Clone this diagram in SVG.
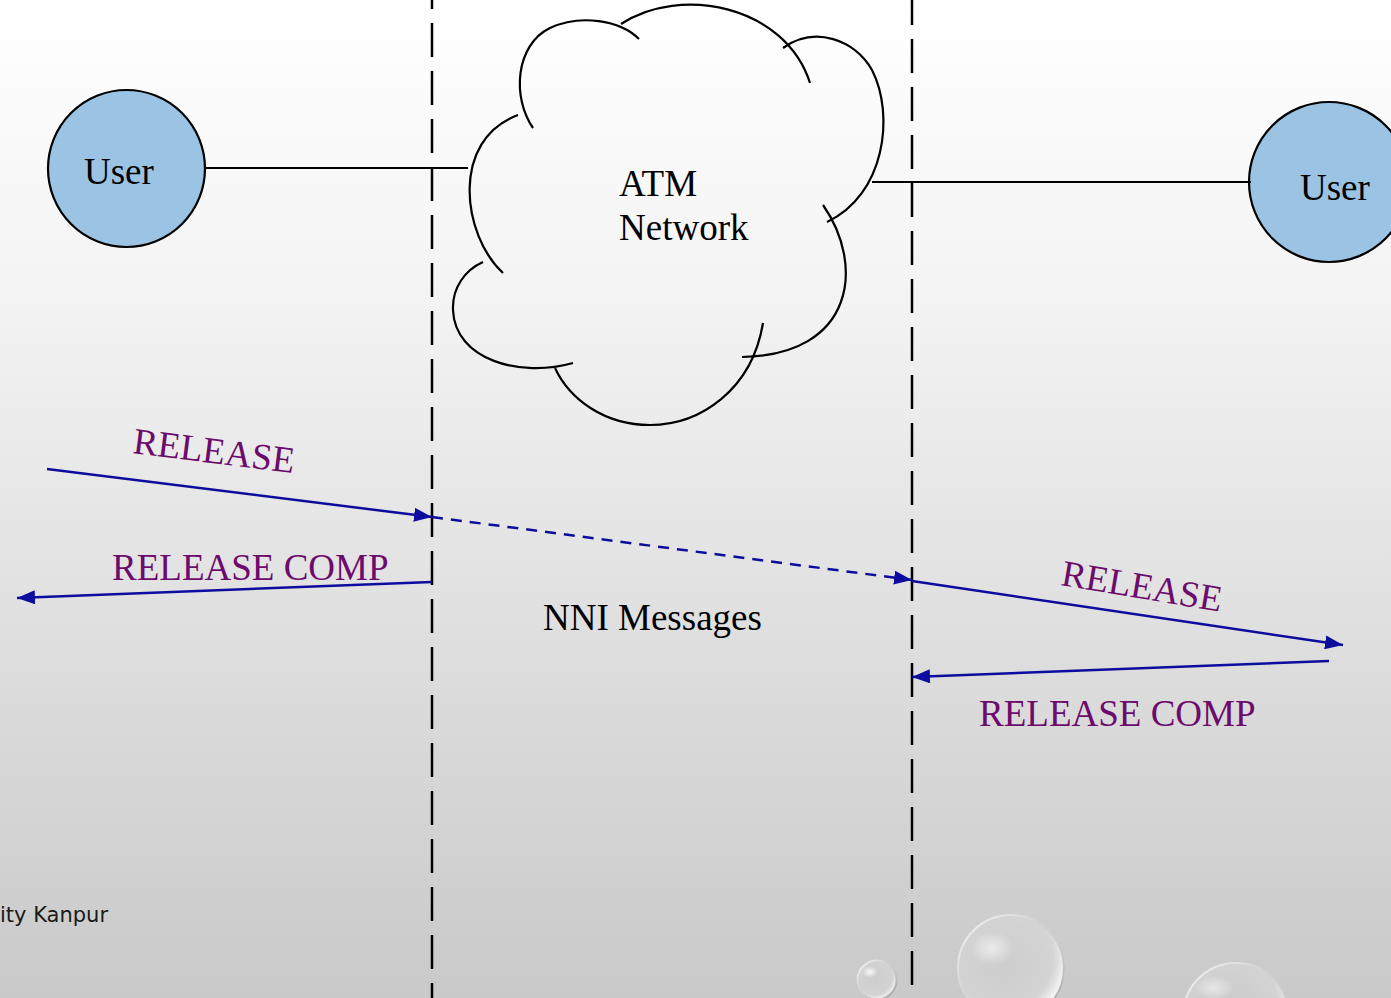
<svg xmlns="http://www.w3.org/2000/svg" width="1391" height="998" viewBox="0 0 1391 998">
  <defs>
    <linearGradient id="bg" x1="0" y1="0" x2="0" y2="1">
      <stop offset="0" stop-color="#ffffff"/>
      <stop offset="0.3" stop-color="#f3f3f3"/>
      <stop offset="1" stop-color="#c9c9c9"/>
    </linearGradient>
    <radialGradient id="drop" cx="0.42" cy="0.4" r="0.62">
      <stop offset="0" stop-color="#d4d4d4" stop-opacity="0.3"/>
      <stop offset="0.75" stop-color="#d9d9d9" stop-opacity="0.6"/>
      <stop offset="0.92" stop-color="#f2f2f2" stop-opacity="0.9"/>
      <stop offset="1" stop-color="#ffffff" stop-opacity="0.9"/>
    </radialGradient>
    <radialGradient id="shine" cx="0.5" cy="0.5" r="0.5">
      <stop offset="0" stop-color="#ffffff" stop-opacity="0.85"/>
      <stop offset="1" stop-color="#ffffff" stop-opacity="0"/>
    </radialGradient>
    <linearGradient id="rim" x1="0" y1="0" x2="1" y2="1">
      <stop offset="0" stop-color="#ffffff" stop-opacity="0.9"/>
      <stop offset="0.6" stop-color="#bdbdbd" stop-opacity="0.6"/>
      <stop offset="1" stop-color="#8a8a8a" stop-opacity="0.9"/>
    </linearGradient>
    <marker id="head" viewBox="0 0 18 14" refX="18" refY="7" markerWidth="18" markerHeight="14" markerUnits="userSpaceOnUse" orient="auto">
      <path d="M0,0 L18,7 L0,14 Z" fill="#0c0c9e"/>
    </marker>
    <style>
      .lane { stroke: #000; stroke-width: 2.5; stroke-dasharray: 34 14; fill: none; }
      .link { stroke: #000; stroke-width: 2; fill: none; }
      .user { fill: #9ac3e4; stroke: #000; stroke-width: 2.2; }
      .cloud { stroke: #000; stroke-width: 2.2; fill: none; stroke-linecap: butt; }
      .msg { stroke: #0c0c9e; stroke-width: 2.5; fill: none; }
      .dash { stroke-dasharray: 11 8; }
      .serif { font-family: "Liberation Serif", "Times New Roman", serif; font-size: 37px; }
      .lbl { fill: #6c0b6c; }
      .blk { fill: #000; }
      .foot { font-family: "DejaVu Sans", sans-serif; font-size: 21px; fill: #1a1a1a; }
      .rim { fill: none; stroke: url(#rim); stroke-width: 2; }
    </style>
  </defs>

  <!-- slide background -->
  <rect width="1391" height="998" fill="url(#bg)"/>

  <!-- decorative droplets -->
  <g id="droplets">
    <circle cx="877" cy="980" r="20" fill="url(#drop)"/>
    <circle class="rim" cx="877" cy="980" r="19.5"/>
    <ellipse cx="870" cy="972" rx="8" ry="6" fill="url(#shine)"/>
    <circle cx="1011" cy="968" r="54" fill="url(#drop)"/>
    <circle class="rim" cx="1011" cy="968" r="53"/>
    <ellipse cx="992" cy="948" rx="22" ry="17" fill="url(#shine)" opacity="0.7"/>
    <circle cx="1236" cy="1016" r="54" fill="url(#drop)"/>
    <circle class="rim" cx="1236" cy="1016" r="53"/>
    <ellipse cx="1214" cy="988" rx="20" ry="12" fill="url(#shine)" opacity="0.6"/>
  </g>

  <!-- interface boundaries -->
  <g id="boundaries">
    <line class="lane" x1="432" y1="0" x2="432" y2="998" stroke-dashoffset="25"/>
    <line class="lane" x1="912" y1="0" x2="912" y2="998" stroke-dashoffset="9"/>
  </g>

  <!-- ATM network cloud -->
  <g id="atm-network">
    <path class="cloud" d="M533,128 C512,98 515,45 550,28 C580,14 620,20 639,39"/>
    <path class="cloud" d="M621,24 C680,-15 785,5 810,83"/>
    <path class="cloud" d="M783,48 C815,25 855,40 872,70 C895,115 885,195 827,222"/>
    <path class="cloud" d="M823,205 C865,265 855,355 742,357"/>
    <path class="cloud" d="M763,323 C752,390 700,425 650,425 C605,425 570,400 555,368"/>
    <path class="cloud" d="M573,363 C520,378 455,360 453,310 C452,288 465,270 483,262"/>
    <path class="cloud" d="M503,273 C462,235 450,140 518,115"/>
    <text class="serif blk" x="619" y="196">ATM</text>
    <text class="serif blk" x="619" y="240">Network</text>
  </g>

  <!-- end users -->
  <g id="user-left">
    <circle class="user" cx="126.5" cy="168.5" r="78.5"/>
    <text class="serif blk" x="84" y="184">User</text>
  </g>
  <g id="user-right">
    <circle class="user" cx="1329" cy="182" r="80"/>
    <text class="serif blk" x="1300" y="200">User</text>
  </g>

  <!-- access links and signalling messages -->
  <g id="connectors">
    <line class="link" x1="205" y1="168" x2="468" y2="168"/>
    <line class="link" x1="872" y1="182" x2="1251" y2="182"/>

    <line class="msg" x1="47" y1="469" x2="432" y2="517" marker-end="url(#head)"/>
    <line class="msg dash" x1="432" y1="517" x2="912" y2="580" marker-end="url(#head)"/>
    <line class="msg" x1="912" y1="581" x2="1343" y2="645" marker-end="url(#head)"/>
    <line class="msg" x1="432" y1="582" x2="17" y2="598" marker-end="url(#head)"/>
    <line class="msg" x1="1329" y1="661" x2="912" y2="677" marker-end="url(#head)"/>
  </g>

  <!-- message labels -->
  <g id="labels">
    <text class="serif lbl" transform="translate(132,453) rotate(7.1)">RELEASE</text>
    <text class="serif lbl" x="112" y="580">RELEASE COMP</text>
    <text class="serif lbl" transform="translate(1060,585) rotate(9.5)">RELEASE</text>
    <text class="serif lbl" x="979" y="726">RELEASE COMP</text>
    <text class="serif blk" x="543" y="630">NNI Messages</text>
  </g>

  <!-- footer -->
  <text class="foot" x="0" y="922">ity Kanpur</text>
</svg>
